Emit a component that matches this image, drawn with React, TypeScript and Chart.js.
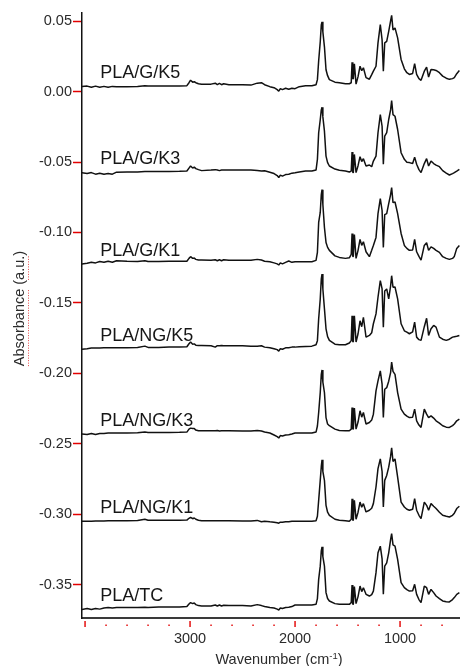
import { useEffect, useRef } from "react";
import { Chart, registerables } from "chart.js";

Chart.register(...registerables);

const FONT = '"Liberation Sans", Arial, Helvetica, sans-serif';

// Wavenumber grid (cm-1), shared by every spectrum
const WAVENUMBERS = [4035,3980,3940,3900,3860,3820,3780,3740,3700,3600,
3500,3430,3400,3300,3200,3100,3030,3010,2995,2975,
2960,2945,2920,2890,2800,2760,2740,2720,2700,2680,
2630,2500,2420,2360,2320,2290,2240,2200,2170,2155,
2140,2120,2090,2060,2030,2000,1960,1900,1840,1800,
1787,1775,1760,1750,1743,1735,1720,1705,1690,1673,
1620,1578,1520,1483,1465,1457,1450,1445,1435,1419,
1400,1381,1365,1349,1324,1292,1270,1254,1229,1210,
1188,1171,1159,1146,1127,1108,1090,1080,1067,1048,
1023,990,959,935,911,880,861,842,820,800,
769,747,728,705,680,657,625,594,560,530,
500,483,460,435];

const PLA_G_K5 = [0.0035,0.0039,0.0031,0.0039,0.0031,0.0037,0.0031,0.0037,0.0035,0.0035,
0.0036,0.0042,0.0039,0.0039,0.0039,0.0040,0.0042,0.0063,0.0081,0.0067,
0.0070,0.0063,0.0056,0.0053,0.0053,0.0060,0.0049,0.0058,0.0049,0.0056,
0.0049,0.0049,0.0046,0.0060,0.0063,0.0049,0.0035,0.0028,0.0014,0.0003,
0.0021,0.0014,0.0024,0.0017,0.0024,0.0021,0.0035,0.0041,0.0042,0.0049,
0.0085,0.0219,0.0353,0.0473,0.0495,0.0424,0.0318,0.0155,0.0113,0.0085,
0.0067,0.0063,0.0056,0.0056,0.0063,0.0208,0.0092,0.0092,0.0198,0.0053,
0.0106,0.0180,0.0148,0.0169,0.0099,0.0088,0.0120,0.0145,0.0180,0.0346,
0.0475,0.0367,0.0145,0.0346,0.0357,0.0428,0.0502,0.0541,0.0438,0.0452,
0.0381,0.0228,0.0162,0.0134,0.0122,0.0129,0.0198,0.0122,0.0092,0.0080,
0.0145,0.0174,0.0103,0.0157,0.0155,0.0150,0.0134,0.0110,0.0095,0.0087,
0.0092,0.0099,0.0127,0.0150];

const PLA_G_K3 = [-0.0575,-0.0582,-0.0575,-0.0586,-0.0579,-0.0586,-0.0582,-0.0586,-0.0572,-0.0570,
-0.0570,-0.0568,-0.0568,-0.0568,-0.0567,-0.0566,-0.0564,-0.0543,-0.0528,-0.0543,
-0.0536,-0.0547,-0.0554,-0.0561,-0.0557,-0.0554,-0.0557,-0.0561,-0.0557,-0.0557,
-0.0557,-0.0557,-0.0557,-0.0560,-0.0564,-0.0562,-0.0572,-0.0582,-0.0596,-0.0610,
-0.0593,-0.0600,-0.0589,-0.0587,-0.0579,-0.0576,-0.0571,-0.0564,-0.0564,-0.0557,
-0.0481,-0.0292,-0.0200,-0.0130,-0.0111,-0.0179,-0.0281,-0.0458,-0.0504,-0.0528,
-0.0550,-0.0559,-0.0564,-0.0571,-0.0564,-0.0429,-0.0575,-0.0575,-0.0446,-0.0575,
-0.0526,-0.0462,-0.0497,-0.0476,-0.0528,-0.0521,-0.0533,-0.0493,-0.0458,-0.0292,
-0.0163,-0.0246,-0.0516,-0.0316,-0.0292,-0.0198,-0.0130,-0.0064,-0.0163,-0.0175,
-0.0269,-0.0434,-0.0481,-0.0501,-0.0504,-0.0511,-0.0465,-0.0516,-0.0554,-0.0575,
-0.0511,-0.0476,-0.0528,-0.0493,-0.0511,-0.0522,-0.0533,-0.0561,-0.0579,-0.0592,
-0.0582,-0.0575,-0.0564,-0.0552];

const PLA_G_K1 = [-0.1224,-0.1219,-0.1212,-0.1216,-0.1206,-0.1212,-0.1205,-0.1212,-0.1201,-0.1205,
-0.1206,-0.1201,-0.1206,-0.1206,-0.1205,-0.1205,-0.1204,-0.1184,-0.1172,-0.1184,
-0.1182,-0.1191,-0.1196,-0.1196,-0.1198,-0.1194,-0.1201,-0.1194,-0.1201,-0.1194,
-0.1198,-0.1198,-0.1198,-0.1191,-0.1196,-0.1204,-0.1208,-0.1216,-0.1223,-0.1231,
-0.1216,-0.1223,-0.1212,-0.1203,-0.1212,-0.1208,-0.1208,-0.1208,-0.1208,-0.1198,
-0.1141,-0.0929,-0.0858,-0.0731,-0.0696,-0.0802,-0.0965,-0.1071,-0.1106,-0.1127,
-0.1166,-0.1177,-0.1184,-0.1180,-0.1155,-0.1007,-0.1170,-0.1170,-0.1014,-0.1184,
-0.1127,-0.1049,-0.1092,-0.1066,-0.1137,-0.1172,-0.1127,-0.1092,-0.1035,-0.0866,
-0.0760,-0.0844,-0.1106,-0.0873,-0.0866,-0.0795,-0.0731,-0.0682,-0.0788,-0.0784,
-0.0866,-0.1007,-0.1092,-0.1113,-0.1127,-0.1124,-0.1049,-0.1137,-0.1170,-0.1196,
-0.1092,-0.1073,-0.1127,-0.1102,-0.1113,-0.1127,-0.1141,-0.1172,-0.1184,-0.1191,
-0.1184,-0.1170,-0.1113,-0.1092];

const PLA_NG_K5 = [-0.1829,-0.1825,-0.1821,-0.1821,-0.1821,-0.1819,-0.1819,-0.1818,-0.1818,-0.1818,
-0.1817,-0.1807,-0.1816,-0.1816,-0.1814,-0.1814,-0.1811,-0.1790,-0.1778,-0.1793,
-0.1791,-0.1800,-0.1802,-0.1802,-0.1804,-0.1814,-0.1804,-0.1804,-0.1802,-0.1805,
-0.1804,-0.1804,-0.1807,-0.1807,-0.1804,-0.1814,-0.1818,-0.1825,-0.1832,-0.1842,
-0.1825,-0.1829,-0.1819,-0.1818,-0.1814,-0.1814,-0.1811,-0.1809,-0.1807,-0.1797,
-0.1768,-0.1613,-0.1472,-0.1330,-0.1295,-0.1401,-0.1542,-0.1684,-0.1740,-0.1766,
-0.1793,-0.1797,-0.1797,-0.1785,-0.1768,-0.1592,-0.1776,-0.1776,-0.1592,-0.1778,
-0.1719,-0.1627,-0.1669,-0.1602,-0.1743,-0.1731,-0.1712,-0.1648,-0.1578,-0.1460,
-0.1342,-0.1401,-0.1672,-0.1415,-0.1401,-0.1472,-0.1380,-0.1307,-0.1389,-0.1387,
-0.1472,-0.1648,-0.1698,-0.1708,-0.1719,-0.1705,-0.1637,-0.1743,-0.1761,-0.1766,
-0.1669,-0.1609,-0.1731,-0.1684,-0.1660,-0.1672,-0.1743,-0.1758,-0.1766,-0.1758,
-0.1743,-0.1740,-0.1737,-0.1731];

const PLA_NG_K3 = [-0.2431,-0.2435,-0.2427,-0.2435,-0.2427,-0.2427,-0.2424,-0.2424,-0.2424,-0.2423,
-0.2422,-0.2417,-0.2420,-0.2420,-0.2420,-0.2419,-0.2417,-0.2396,-0.2389,-0.2392,
-0.2392,-0.2403,-0.2408,-0.2408,-0.2408,-0.2408,-0.2406,-0.2410,-0.2408,-0.2408,
-0.2408,-0.2410,-0.2410,-0.2406,-0.2410,-0.2417,-0.2424,-0.2438,-0.2449,-0.2459,
-0.2442,-0.2445,-0.2438,-0.2436,-0.2431,-0.2424,-0.2424,-0.2424,-0.2424,-0.2417,
-0.2374,-0.2278,-0.2137,-0.2007,-0.1976,-0.2063,-0.2137,-0.2314,-0.2360,-0.2372,
-0.2396,-0.2406,-0.2408,-0.2408,-0.2396,-0.2243,-0.2396,-0.2396,-0.2247,-0.2396,
-0.2346,-0.2266,-0.2311,-0.2278,-0.2360,-0.2349,-0.2332,-0.2290,-0.2125,-0.2054,
-0.1983,-0.2077,-0.2314,-0.2113,-0.2102,-0.2056,-0.1995,-0.1920,-0.1986,-0.2007,
-0.2137,-0.2254,-0.2290,-0.2304,-0.2314,-0.2311,-0.2254,-0.2337,-0.2367,-0.2384,
-0.2254,-0.2290,-0.2314,-0.2302,-0.2318,-0.2337,-0.2353,-0.2372,-0.2382,-0.2384,
-0.2371,-0.2360,-0.2337,-0.2325];

const PLA_NG_K1 = [-0.3050,-0.3050,-0.3050,-0.3048,-0.3048,-0.3048,-0.3046,-0.3046,-0.3046,-0.3046,
-0.3045,-0.3036,-0.3043,-0.3043,-0.3043,-0.3043,-0.3042,-0.3029,-0.3022,-0.3032,
-0.3027,-0.3036,-0.3043,-0.3046,-0.3046,-0.3046,-0.3046,-0.3046,-0.3046,-0.3046,
-0.3046,-0.3048,-0.3048,-0.3044,-0.3054,-0.3050,-0.3054,-0.3057,-0.3061,-0.3064,
-0.3057,-0.3057,-0.3054,-0.3054,-0.3050,-0.3050,-0.3050,-0.3050,-0.3050,-0.3046,
-0.3015,-0.2902,-0.2760,-0.2661,-0.2614,-0.2697,-0.2760,-0.2937,-0.2986,-0.3008,
-0.3036,-0.3043,-0.3046,-0.3050,-0.3036,-0.2890,-0.3043,-0.3043,-0.2902,-0.3036,
-0.2986,-0.2914,-0.2951,-0.2925,-0.2984,-0.2972,-0.2958,-0.2925,-0.2807,-0.2677,
-0.2607,-0.2697,-0.2949,-0.2760,-0.2725,-0.2666,-0.2590,-0.2529,-0.2626,-0.2607,
-0.2737,-0.2914,-0.2949,-0.2965,-0.2972,-0.2965,-0.2890,-0.2972,-0.3008,-0.3031,
-0.2914,-0.2937,-0.2972,-0.2925,-0.2944,-0.2960,-0.2986,-0.3008,-0.3015,-0.3020,
-0.3008,-0.2993,-0.2960,-0.2944];

const PLA_TC = [-0.3677,-0.3670,-0.3677,-0.3670,-0.3674,-0.3666,-0.3663,-0.3666,-0.3663,-0.3663,
-0.3663,-0.3661,-0.3663,-0.3659,-0.3659,-0.3659,-0.3656,-0.3638,-0.3628,-0.3635,
-0.3631,-0.3642,-0.3649,-0.3652,-0.3652,-0.3645,-0.3652,-0.3645,-0.3652,-0.3647,
-0.3649,-0.3649,-0.3652,-0.3642,-0.3649,-0.3656,-0.3663,-0.3666,-0.3674,-0.3680,
-0.3666,-0.3670,-0.3663,-0.3661,-0.3656,-0.3645,-0.3645,-0.3645,-0.3645,-0.3640,
-0.3599,-0.3463,-0.3369,-0.3260,-0.3232,-0.3302,-0.3369,-0.3557,-0.3599,-0.3616,
-0.3635,-0.3640,-0.3640,-0.3640,-0.3628,-0.3503,-0.3640,-0.3640,-0.3514,-0.3635,
-0.3585,-0.3510,-0.3550,-0.3522,-0.3569,-0.3581,-0.3571,-0.3546,-0.3415,-0.3274,
-0.3227,-0.3317,-0.3569,-0.3369,-0.3345,-0.3274,-0.3180,-0.3138,-0.3218,-0.3227,
-0.3321,-0.3486,-0.3522,-0.3536,-0.3546,-0.3543,-0.3498,-0.3569,-0.3606,-0.3628,
-0.3510,-0.3522,-0.3569,-0.3534,-0.3557,-0.3581,-0.3599,-0.3616,-0.3621,-0.3623,
-0.3606,-0.3592,-0.3569,-0.3557];

const SERIES_NAMES = ["PLA/G/K5", "PLA/G/K3", "PLA/G/K1", "PLA/NG/K5", "PLA/NG/K3", "PLA/NG/K1", "PLA/TC"];
const SERIES_VALUES = [PLA_G_K5, PLA_G_K3, PLA_G_K1, PLA_NG_K5, PLA_NG_K3, PLA_NG_K1, PLA_TC];

const Y_TICKS = [0.05, 0, -0.05, -0.1, -0.15, -0.2, -0.25, -0.3, -0.35];
const X_TICKS = [4000, 3800, 3600, 3400, 3200, 3000, 2800, 2600, 2400, 2200, 2000, 1800, 1600, 1400, 1200, 1000, 800, 600];
const X_MAJOR_TICKS = [4000, 3000, 2000, 1000];
const X_TICK_LABELS = [3000, 2000, 1000];

const decorPlugin = {
  id: "decor",
  afterDatasetsDraw(chart: any) {
    const { ctx, scales } = chart;
    const xs = scales.x;
    const ys = scales.y;
    ctx.save();
    ctx.font = `18px ${FONT}`;
    ctx.fillStyle = "#161616";
    ctx.textAlign = "left";
    ctx.textBaseline = "alphabetic";
    chart.data.datasets.forEach((ds: any) => {
      const px = xs.getPixelForValue(3855);
      const py = ys.getPixelForValue(ds.data[0].y) - 8.5;
      ctx.fillText(ds.label, px, py);
    });
    ctx.restore();
  },
  afterDraw(chart: any) {
    const { ctx, chartArea, scales } = chart;
    const xs = scales.x;
    ctx.save();
    // x tick marks (red)
    ctx.fillStyle = "#e20000";
    X_TICKS.forEach((v) => {
      const px = xs.getPixelForValue(v);
      if (X_MAJOR_TICKS.includes(v)) ctx.fillRect(px - 0.7, chartArea.bottom + 3, 1.4, 6);
      else ctx.fillRect(px - 0.7, chartArea.bottom + 6.5, 1.4, 1.5);
    });
    // x title with superscript
    ctx.fillStyle = "#2b2b2b";
    ctx.textBaseline = "alphabetic";
    ctx.textAlign = "left";
    const main = "Wavenumber (cm";
    const sup = "-1";
    const close = ")";
    ctx.font = `14.5px ${FONT}`;
    const wMain = ctx.measureText(main).width;
    const wClose = ctx.measureText(close).width;
    ctx.font = `9.5px ${FONT}`;
    const wSup = ctx.measureText(sup).width;
    const total = wMain + wSup + wClose;
    const cx = 279;
    const base = 664;
    let sx = cx - total / 2;
    ctx.font = `14.5px ${FONT}`;
    ctx.fillText(main, sx, base);
    sx += wMain;
    ctx.font = `9.5px ${FONT}`;
    ctx.fillText(sup, sx, base - 5.5);
    sx += wSup;
    ctx.font = `14.5px ${FONT}`;
    ctx.fillText(close, sx, base);
    // y title (rotated)
    ctx.translate(20, 308.5);
    ctx.rotate(-Math.PI / 2);
    ctx.textAlign = "left";
    ctx.textBaseline = "middle";
    const yTitle = "Absorbance (a.u.)";
    const wT = ctx.measureText(yTitle).width;
    const start = -wT / 2;
    ctx.fillText(yTitle, start, 0);
    // spell-check style dotted underline
    const wAbs = ctx.measureText("Absorbance").width;
    const wPre = ctx.measureText("Absorbance (").width;
    const wAu = ctx.measureText("a.u.").width;
    ctx.strokeStyle = "rgba(225,40,40,0.85)";
    ctx.lineWidth = 1;
    ctx.setLineDash([1, 1.5]);
    ctx.beginPath();
    ctx.moveTo(start, 8.5);
    ctx.lineTo(start + wAbs, 8.5);
    ctx.moveTo(start + wPre, 8.5);
    ctx.lineTo(start + wPre + wAu, 8.5);
    ctx.stroke();
    ctx.restore();
  },
};

export default function App() {
  const canvasRef = useRef<HTMLCanvasElement | null>(null);

  useEffect(() => {
    if (!canvasRef.current) return;
    const datasets = SERIES_NAMES.map((name, si) => ({
      label: name,
      data: WAVENUMBERS.map((w, i) => ({ x: w, y: SERIES_VALUES[si][i] })),
      borderColor: "#111111",
      borderWidth: 1.5,
      pointRadius: 0,
      tension: 0,
      fill: false,
      borderJoinStyle: "bevel" as const,
    }));

    const chart = new Chart(canvasRef.current, {
      type: "line",
      data: { datasets },
      plugins: [decorPlugin],
      options: {
        animation: false,
        responsive: false,
        devicePixelRatio: 1,
        layout: { padding: { top: 13, left: 0, right: 0, bottom: 0 } },
        plugins: {
          legend: { display: false },
          tooltip: { enabled: false },
        },
        scales: {
          x: {
            type: "linear",
            reverse: true,
            min: 429,
            max: 4029,
            afterFit: (s: any) => {
              s.height = 48;
            },
            afterBuildTicks: (s: any) => {
              s.ticks = X_TICKS.map((v) => ({ value: v }));
            },
            grid: { display: true, drawOnChartArea: false, drawTicks: false },
            border: { display: true, color: "#3a3a3a", width: 2 },
            ticks: {
              autoSkip: false,
              maxRotation: 0,
              padding: 12,
              color: "#2b2b2b",
              font: { family: FONT, size: 14.5 },
              callback: (v: any) => (X_TICK_LABELS.includes(Number(v)) ? String(v) : ""),
            },
          },
          y: {
            type: "linear",
            min: -0.3737,
            max: 0.0558,
            afterFit: (s: any) => {
              s.width = 82;
            },
            afterBuildTicks: (s: any) => {
              s.ticks = Y_TICKS.map((v) => ({ value: v }));
            },
            grid: {
              display: true,
              drawOnChartArea: false,
              drawTicks: true,
              tickLength: 9,
              tickColor: "#e20000",
              tickWidth: 1.5,
            },
            border: { display: true, color: "#111111", width: 1.5 },
            ticks: {
              padding: 1,
              color: "#2b2b2b",
              font: { family: FONT, size: 14.5 },
              callback: (v: any) => Number(v).toFixed(2),
            },
          },
        },
      },
    });
    return () => chart.destroy();
  }, []);

  return (
    <div style={{ position: "fixed", left: 0, top: 0, width: 460, height: 666, background: "#ffffff", overflow: "hidden" }}>
      <canvas ref={canvasRef} width={460} height={666} style={{ display: "block" }} />
    </div>
  );
}
